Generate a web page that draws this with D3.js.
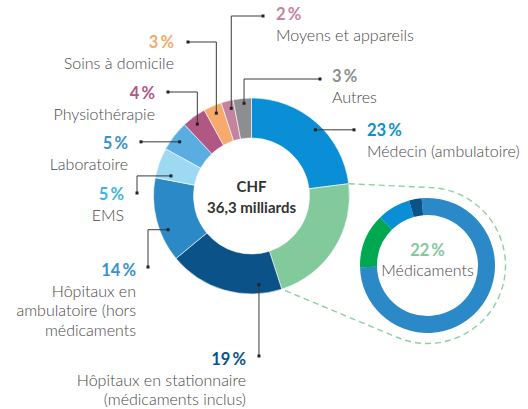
<!DOCTYPE html>
<html>
<head>
<meta charset="utf-8">
<script src="https://cdn.jsdelivr.net/npm/d3@7"></script>
<style>
  body { margin: 0; background: #fff; }
  svg { display: block; font-family: Lato, "Open Sans", sans-serif; }
</style>
</head>
<body>
<svg id="chart" width="528" height="409"></svg>
<script>
// cost shares, clockwise from 12 o'clock
var categories = ["Médecin (ambulatoire)", "Médicaments", "Hôpitaux en stationnaire|(médicaments inclus)",
  "Hôpitaux en|ambulatoire (hors|médicaments", "EMS", "Laboratoire", "Physiothérapie",
  "Soins à domicile", "Moyens et appareils", "Autres"];
var shares = [23, 22, 19, 14, 5, 5, 4, 3, 2, 3];
var sliceColors = ["#0a8fd6", "#82c99b", "#0b5289", "#2a89c6", "#9dd9f3", "#5aade0", "#b05783", "#f7aa6c", "#c4849f", "#8d8e90"];
var pctColors = ["#0a8fd6", "#82c99b", "#0b5289", "#3a8fcf", "#3cb4e6", "#3a8fcf", "#b05783", "#f7aa6c", "#c4849f", "#8d8e90"];
var totalLabel = ["CHF", "36,3 milliards"];

// breakdown of the "Médicaments" slice (clockwise from just left of top)
var drugShares = [76, 13, 8, 3];
var drugColors = ["#2a89c6", "#00a84f", "#0a8fd6", "#0b5289"];

var svg = d3.select("#chart");
var cx = 251.5, cy = 196, rOut = 98, rIn = 58;
var zx = 427.5, zy = 265.5, zOut = 67.5, zIn = 50.5, zRing = 78;
var textColor = "#484848";

var rad = Math.PI / 180;
function pt(a, r, x0, y0) { return [x0 + r * Math.sin(a), y0 - r * Math.cos(a)]; }

// main donut
var pie = d3.pie().sort(null).value(function (d) { return d; });
var arcs = pie(shares);
var arc = d3.arc().innerRadius(rIn).outerRadius(rOut);

var g = svg.append("g").attr("transform", "translate(" + cx + "," + cy + ")");
g.selectAll("path")
  .data(arcs)
  .enter()
  .append("path")
  .attr("d", arc)
  .attr("fill", function (d, i) { return sliceColors[i]; })
  .attr("stroke", "#fff")
  .attr("stroke-width", 0.6);

g.selectAll("text")
  .data(totalLabel)
  .enter()
  .append("text")
  .attr("text-anchor", "middle")
  .attr("y", function (d, i) { return -4 + i * 21; })
  .attr("font-size", 15)
  .attr("font-weight", 700)
  .attr("fill", "#333")
  .text(function (d) { return d; });

// dashed zoom outline from the Médicaments slice to the small donut
var med = arcs[1];
var p1 = pt(med.startAngle, rOut, cx, cy), p2 = pt(med.endAngle, rOut, cx, cy);
function tangent(p, upper) {
  var dx = p[0] - zx, dy = p[1] - zy, d = Math.sqrt(dx * dx + dy * dy);
  var phi = Math.atan2(dy, dx), a = Math.acos(zRing / d);
  var t = upper ? phi + a : phi - a;
  return [zx + zRing * Math.cos(t), zy + zRing * Math.sin(t)];
}
var t1 = tangent(p1, true), t2 = tangent(p2, false);
svg.append("path")
  .attr("d", "M" + p1 + "L" + t1 + "A" + zRing + "," + zRing + " 0 1 1 " + t2 + "L" + p2)
  .attr("fill", "none")
  .attr("stroke", "#8ccfa5")
  .attr("stroke-width", 1.4)
  .attr("stroke-dasharray", "6,4");

// small donut
var zpie = d3.pie().sort(null).startAngle(-5 * rad).endAngle(355 * rad).value(function (d) { return d; });
var zarc = d3.arc().innerRadius(zIn).outerRadius(zOut);
var zg = svg.append("g").attr("transform", "translate(" + zx + "," + zy + ")");
zg.selectAll("path")
  .data(zpie(drugShares))
  .enter()
  .append("path")
  .attr("d", zarc)
  .attr("fill", function (d, i) { return drugColors[i]; });
zg.append("text")
  .attr("text-anchor", "middle").attr("y", -10)
  .attr("font-size", 16.5).attr("font-weight", 700).attr("fill", pctColors[1])
  .text(shares[1] + "\u2009%");
zg.append("text")
  .attr("text-anchor", "middle").attr("y", 10)
  .attr("font-size", 16).attr("font-weight", 300).attr("fill", textColor)
  .text("Médicaments");

// labels: anchor angle nudge (deg) from slice middle, leader route, text placement
var labelLayout = [
  { i: 0, nudge: 2.6, r: 92, route: [{ x: 354 }], tx: 367, anchor: "start", py: 136 },
  { i: 2, nudge: -21, r: 89, route: [{ y: 356 }], tx: 246, anchor: "end", py: 365 },
  { i: 3, nudge: -7.6, r: 90, route: [{ x: 148 }, { y: 267 }], tx: 136, anchor: "end", py: 276 },
  { i: 4, nudge: -5.8, r: 83, route: [{ x: 137 }, { y: 193 }], tx: 124, anchor: "end", py: 200 },
  { i: 5, nudge: -0.8, r: 90, route: [{ x: 141 }], tx: 128, anchor: "end", py: 149 },
  { i: 6, nudge: -1, r: 90, route: [{ y: 92 }, { x: 168 }], tx: 155, anchor: "end", py: 99 },
  { i: 7, nudge: 0.4, r: 90, route: [{ y: 42 }, { x: 188 }], tx: 174, anchor: "end", py: 48 },
  { i: 8, nudge: 1.4, r: 90, route: [{ y: 16 }, { x: 263 }], tx: 276, anchor: "start", py: 20 },
  { i: 9, nudge: 0.8, r: 93, route: [{ y: 79 }, { x: 320 }], tx: 332, anchor: "start", py: 82 }
];

var lab = svg.append("g");
labelLayout.forEach(function (L) {
  var a = arcs[L.i];
  var p = pt((a.startAngle + a.endAngle) / 2 + L.nudge * rad, L.r, cx, cy);
  var pts = [p];
  L.route.forEach(function (s) {
    var last = pts[pts.length - 1];
    pts.push([s.x !== undefined ? s.x : last[0], s.y !== undefined ? s.y : last[1]]);
  });
  lab.append("path")
    .attr("d", d3.line()(pts))
    .attr("fill", "none")
    .attr("stroke", "#3a3a3a")
    .attr("stroke-width", 1);
  [pts[0], pts[pts.length - 1]].forEach(function (q) {
    lab.append("rect")
      .attr("x", q[0] - 1.5).attr("y", q[1] - 1.5)
      .attr("width", 3).attr("height", 3)
      .attr("fill", "#222");
  });
  lab.append("text")
    .attr("x", L.tx).attr("y", L.py)
    .attr("text-anchor", L.anchor)
    .attr("font-size", 16.5).attr("font-weight", 700)
    .attr("fill", pctColors[L.i])
    .text(shares[L.i] + "\u2009%");
  categories[L.i].split("|").forEach(function (line, k) {
    lab.append("text")
      .attr("x", L.tx).attr("y", L.py + 20.5 + k * 19.5)
      .attr("text-anchor", L.anchor)
      .attr("font-size", 16)
      .attr("font-weight", 300)
      .attr("fill", textColor)
      .text(line);
  });
});
</script>
</body>
</html>
